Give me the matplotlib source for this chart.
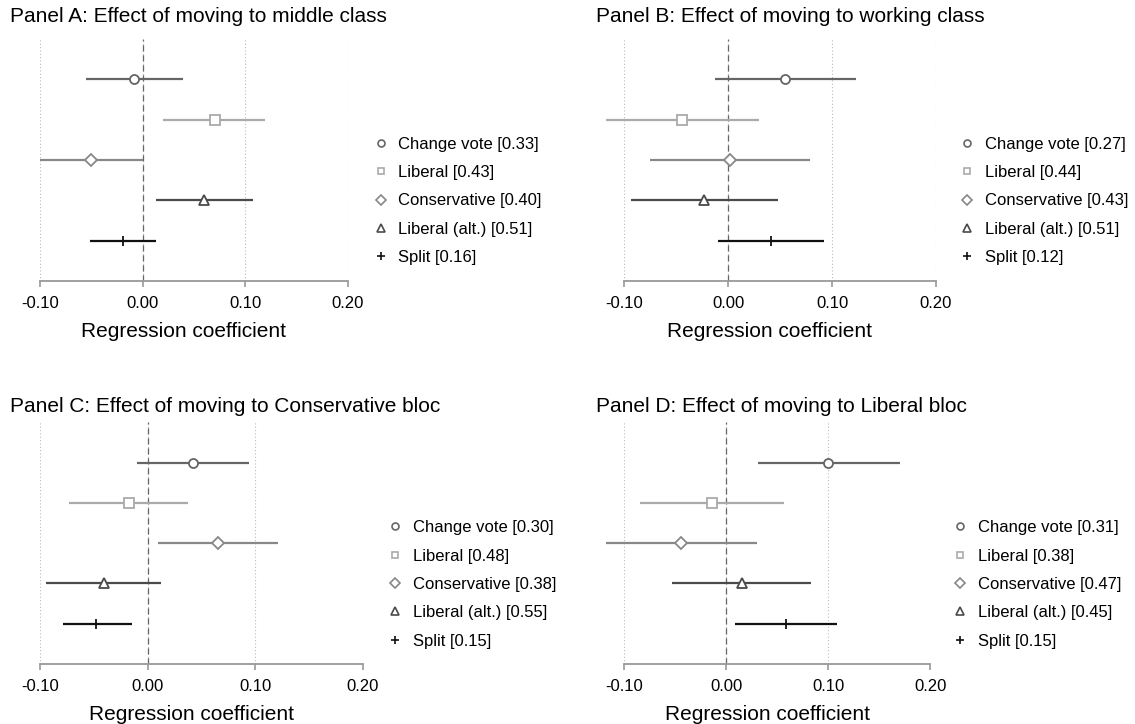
import matplotlib
matplotlib.use("Agg")
import matplotlib.pyplot as plt

plt.rcParams['font.family'] = ['Liberation Sans', 'DejaVu Sans']

# data (coefficient, lower CI, upper CI)
models = ["Change vote", "Liberal", "Conservative", "Liberal (alt.)", "Split"]

titles = ["Panel A: Effect of moving to middle class",
          "Panel B: Effect of moving to working class",
          "Panel C: Effect of moving to Conservative bloc",
          "Panel D: Effect of moving to Liberal bloc"]

est_a = [-0.008, 0.070, -0.050, 0.060, -0.019]
lo_a = [-0.055, 0.020, -0.100, 0.013, -0.051]
hi_a = [0.039, 0.119, 0.000, 0.107, 0.013]
r_a = ["0.33", "0.43", "0.40", "0.51", "0.16"]

est_b = [0.055, -0.044, 0.002, -0.023, 0.041]
lo_b = [-0.013, -0.118, -0.075, -0.094, -0.010]
hi_b = [0.123, 0.030, 0.079, 0.048, 0.092]
r_b = ["0.27", "0.44", "0.43", "0.51", "0.12"]

est_c = [0.042, -0.018, 0.065, -0.041, -0.048]
lo_c = [-0.010, -0.073, 0.009, -0.095, -0.079]
hi_c = [0.094, 0.037, 0.121, 0.012, -0.015]
r_c = ["0.30", "0.48", "0.38", "0.55", "0.15"]

est_d = [0.100, -0.014, -0.044, 0.015, 0.059]
lo_d = [0.031, -0.085, -0.118, -0.053, 0.009]
hi_d = [0.170, 0.057, 0.030, 0.083, 0.109]
r_d = ["0.31", "0.38", "0.47", "0.45", "0.15"]

ticks = [-0.10, 0.00, 0.10, 0.20]
tick_labels = ["-0.10", "0.00", "0.10", "0.20"]

markers = ['o', 's', 'D', '^', '+']
msizes = [6.5, 6.5, 6, 7, 7]
leg_sizes = [5, 5, 5, 6, 6]
colors = ['#666666', '#aaaaaa', '#888888', '#4a4a4a', '#111111']

W, H = 1135, 724
fig = plt.figure(figsize=(W / 100, H / 100), dpi=100)

# pixel boxes: left, right, top, bottom ; legend anchor x ; title x
boxes = [(40, 348, 39, 281, 372.5, 10),
         (624.3, 936, 39, 281, 958.7, 596),
         (40.3, 363, 422.4, 664, 386.7, 10),
         (624.3, 930.3, 422.4, 664, 951.7, 596)]

panels = [(est_a, lo_a, hi_a, r_a), (est_b, lo_b, hi_b, r_b),
          (est_c, lo_c, hi_c, r_c), (est_d, lo_d, hi_d, r_d)]

for k, (est, lo, hi, rr) in enumerate(panels):
    l, r, t, b, legx, titx = boxes[k]
    ax = fig.add_axes([l / W, 1 - b / H, (r - l) / W, (b - t) / H])
    ax.set_xlim(-0.10, 0.20)
    ax.set_ylim(0, 6)

    for xv in ticks:
        ax.axvline(xv, color='#bbbbbb', lw=0.8, ls=(0, (1, 2)), zorder=0)
    ax.axvline(0, color='#666666', lw=0.9, ls=(0, (5, 3)), zorder=1)

    handles = []
    for i in range(len(models)):
        yv = 5 - i
        ax.hlines(yv, lo[i], hi[i], color=colors[i], lw=1.6, clip_on=False, zorder=2)
        ax.plot(est[i], yv, marker=markers[i], ms=msizes[i],
                mfc='white', mec=colors[i], mew=1.3, ls='none', clip_on=False, zorder=3)
        h, = ax.plot([], [], marker=markers[i], ms=leg_sizes[i],
                     mfc='white', mec=colors[i], mew=1.2, ls='none',
                     label=f"{models[i]} [{rr[i]}]")
        handles.append(h)

    for s in ['top', 'right', 'left']:
        ax.spines[s].set_visible(False)
    ax.spines['bottom'].set_color('#999999')
    ax.spines['bottom'].set_linewidth(1.3)
    ax.set_yticks([])
    ax.set_xticks(ticks)
    ax.set_xticklabels(tick_labels, fontsize=12)
    ax.tick_params(axis='x', length=4.5, width=1.2, color='#999999', pad=6)
    ax.set_xlabel("Regression coefficient", fontsize=15)
    ax.xaxis.set_label_coords(0.467, -0.168)

    fig.text(titx / W, 1 - 17 / H - (0 if k < 2 else 390 / H), titles[k],
             fontsize=15, ha='left', va='center')

    ax.legend(handles=handles, loc='center left', frameon=False,
              bbox_to_anchor=(legx / W, 1 - (t + 162) / H), bbox_transform=fig.transFigure,
              fontsize=12, handlelength=1.0, handletextpad=0.55, borderpad=0,
              borderaxespad=0, labelspacing=0.8)

fig.savefig("out.png", dpi=100, facecolor='white')
